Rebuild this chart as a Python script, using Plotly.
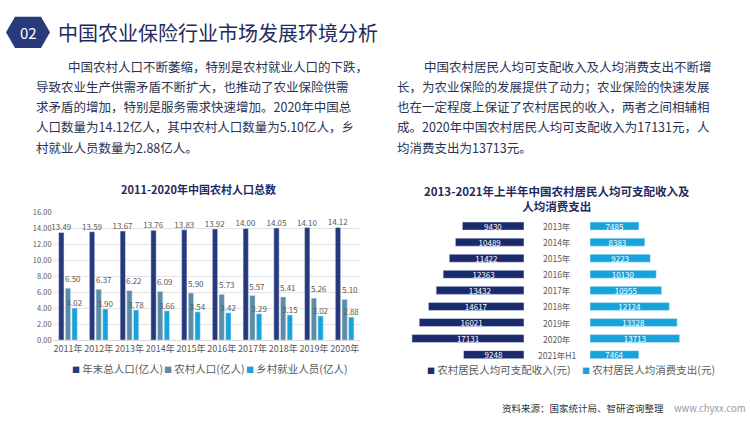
import plotly.graph_objects as go

# ---------------- data ----------------
years = ["2011年", "2012年", "2013年", "2014年", "2015年", "2016年", "2017年", "2018年", "2019年", "2020年"]
total_pop = [13.49, 13.59, 13.67, 13.76, 13.83, 13.92, 14.00, 14.05, 14.10, 14.12]
rural_pop = [6.50, 6.37, 6.22, 6.09, 5.90, 5.73, 5.57, 5.41, 5.26, 5.10]
rural_emp = [4.02, 3.90, 3.78, 3.66, 3.54, 3.42, 3.29, 3.15, 3.02, 2.88]
left_series_names = ["年末总人口(亿人)", "农村人口(亿人)", "乡村就业人员(亿人)"]

inc_years = ["2013年", "2014年", "2015年", "2016年", "2017年", "2018年", "2019年", "2020年", "2021年H1"]
income = [9430, 10489, 11422, 12363, 13432, 14617, 16021, 17131, 9248]
consumption = [7485, 8383, 9223, 10130, 10955, 12124, 13328, 13713, 7464]
right_series_names = ["农村居民人均可支配收入(元)", "农村居民人均消费支出(元)"]

W, H = 750, 421
FONT = "Noto Sans CJK SC"
NAVY = "#26397c"
TEAL = "#5b8da7"
CYAN = "#17a3dc"
DNAVY = "#1b2a6b"
TXT = "#2a3352"
GRAY = "#595959"


def px(x):
    return x / W


def py(y):
    return 1 - y / H


fig = go.Figure()
annotations = []

# ---------------- left chart ----------------
for idx, (name, vals, col) in enumerate(zip(left_series_names, [total_pop, rural_pop, rural_emp],
                                            [NAVY, TEAL, CYAN])):
    labels = [f"{v:.2f}" for v in vals]
    fig.add_trace(go.Bar(
        x=years, y=vals, name=name, marker_color=col,
        text=labels if idx != 1 else None, textposition="outside", constraintext="none",
        textfont=dict(size=8, color=GRAY, family=FONT),
        cliponaxis=False, xaxis="x", yaxis="y", showlegend=False,
    ))
    if idx == 1:
        # labels of the middle series sit slightly right of the bar, as in the source
        for yr, v, t in zip(years, vals, labels):
            annotations.append(dict(x=yr, y=v, xref="x", yref="y", text=t, showarrow=False,
                                    xshift=5, yshift=2, yanchor="bottom", xanchor="center",
                                    font=dict(size=8, color=GRAY, family=FONT)))

# ---------------- right chart ----------------
fig.add_trace(go.Bar(
    y=inc_years, x=income, orientation="h", marker_color=DNAVY,
    name=right_series_names[0], width=0.5, offset=-0.25,
    text=[str(v) for v in income], textposition="inside", insidetextanchor="middle",
    constraintext="none", textfont=dict(size=8, color="white", family=FONT),
    xaxis="x2", yaxis="y2", showlegend=False,
))
fig.add_trace(go.Bar(
    y=inc_years, x=consumption, orientation="h", marker_color=CYAN,
    name=right_series_names[1], width=0.5, offset=-0.25,
    text=[str(v) for v in consumption], textposition="inside", insidetextanchor="middle",
    constraintext="none", textfont=dict(size=8, color="white", family=FONT),
    xaxis="x3", yaxis="y2", showlegend=False,
))

RMAX = 17500

# year labels in the middle of the butterfly chart
for yl in inc_years:
    annotations.append(dict(x=px(557), y=yl, xref="paper", yref="y2", text=yl,
                            showarrow=False, font=dict(size=8.5, color=GRAY, family=FONT),
                            xanchor="center", yanchor="middle"))

# header
annotations.append(dict(x=px(28), y=py(27), xref="paper", yref="paper", text="02",
                        showarrow=False, font=dict(size=15, color="white", family=FONT),
                        xanchor="center", yanchor="middle"))
annotations.append(dict(x=px(56), y=py(27), xref="paper", yref="paper",
                        text="中国农业保险行业市场发展环境分析",
                        showarrow=False, font=dict(size=20, color="#1f2b5e", family=FONT),
                        xanchor="left", yanchor="middle"))

left_lines = [
    ("中国农村人口不断萎缩，特别是农村就业人口的下跌，", 66),
    ("导致农业生产供需矛盾不断扩大，也推动了农业保险供需", 34),
    ("求矛盾的增加，特别是服务需求快速增加。2020年中国总", 34),
    ("人口数量为14.12亿人，其中农村人口数量为5.10亿人，乡", 34),
    ("村就业人员数量为2.88亿人。", 34),
]
right_lines = [
    ("中国农村居民人均可支配收入及人均消费支出不断增", 422),
    ("长，为农业保险的发展提供了动力；农业保险的快速发展", 395),
    ("也在一定程度上保证了农村居民的收入，两者之间相辅相", 395),
    ("成。2020年中国农村居民人均可支配收入为17131元，人", 395),
    ("均消费支出为13713元。", 395),
]
for lines in (left_lines, right_lines):
    for i, (t, x0) in enumerate(lines):
        annotations.append(dict(x=px(x0), y=py(62 + 20.7 * i), xref="paper", yref="paper", text=t,
                                showarrow=False, font=dict(size=12.5, color=TXT, family=FONT),
                                xanchor="left", yanchor="middle"))

# chart titles
annotations.append(dict(x=px(198), y=py(188), xref="paper", yref="paper",
                        text="<b>2011-2020年中国农村人口总数</b>", showarrow=False,
                        font=dict(size=11, color="#1f2b5e", family=FONT), xanchor="center", yanchor="middle"))
annotations.append(dict(x=px(557), y=py(198), xref="paper", yref="paper",
                        text="<b>2013-2021年上半年中国农村居民人均可支配收入及</b><br><b>人均消费支出</b>",
                        showarrow=False, align="center",
                        font=dict(size=11.5, color="#1f2b5e", family=FONT), xanchor="center", yanchor="middle"))

# legends
def leg(x, y, col, label):
    return dict(x=px(x), y=py(y), xref="paper", yref="paper",
                text=f'<span style="color:{col};font-size:8px">■</span> {label}',
                showarrow=False, font=dict(size=10.5, color=GRAY, family=FONT),
                xanchor="left", yanchor="middle")

annotations.append(leg(70, 372, NAVY, left_series_names[0]))
annotations.append(leg(162, 372, TEAL, left_series_names[1]))
annotations.append(leg(244, 372, CYAN, left_series_names[2]))
annotations.append(leg(425, 373, DNAVY, right_series_names[0]))
annotations.append(leg(580, 373, CYAN, right_series_names[1]))

# source
annotations.append(dict(x=px(666), y=py(413), xref="paper", yref="paper",
                        text="资料来源：国家统计局、智研咨询整理", showarrow=False,
                        font=dict(size=9.5, color="#333333", family=FONT), xanchor="right", yanchor="middle"))
annotations.append(dict(x=px(747), y=py(413), xref="paper", yref="paper",
                        text="www.chyxx.com", showarrow=False,
                        font=dict(size=9.5, color="#9a9a9a", family=FONT), xanchor="right", yanchor="middle"))

# hexagon badge
hexpts = [(6, 27), (15, 11), (41, 11), (50, 27), (41, 43), (15, 43)]
path = "M " + " L ".join(f"{px(a)},{py(b)}" for a, b in hexpts) + " Z"
shapes = [dict(type="path", path=path, xref="paper", yref="paper",
               fillcolor="#293a7a", line=dict(width=0), layer="below")]

fig.update_layout(
    width=W, height=H, margin=dict(l=0, r=0, t=0, b=0),
    paper_bgcolor="white", plot_bgcolor="rgba(0,0,0,0)",
    barmode="group", bargap=0.35, bargroupgap=0.2,
    font=dict(family=FONT, color=GRAY),
    showlegend=False,
    xaxis=dict(domain=[px(52.6), px(360)], anchor="y", showline=True, linecolor="#d9d9d9",
               linewidth=1, ticks="", tickangle=0, tickfont=dict(size=9, color=GRAY), showgrid=False),
    yaxis=dict(domain=[py(343), py(212)], anchor="x", range=[0, 16], dtick=2, tickformat=".2f",
               showgrid=True, gridcolor="#e3e3e3", gridwidth=1, zeroline=False,
               tickfont=dict(size=7.5, color=GRAY), ticks="", showline=False),
    xaxis2=dict(domain=[px(524 - RMAX * 0.00654), px(524)], anchor="y2", range=[RMAX, 0],
                visible=False),
    xaxis3=dict(domain=[px(590), px(590 + RMAX * 0.00654)], anchor="y2", range=[0, RMAX],
                visible=False),
    yaxis2=dict(domain=[py(366.25), py(217.75)], anchor="x2", autorange="reversed",
                visible=False, type="category"),
    annotations=annotations,
    shapes=shapes,
)

fig.write_html("out.html", config={"displayModeBar": False},
               post_script="document.body.style.margin='0';document.body.style.overflow='hidden';")
